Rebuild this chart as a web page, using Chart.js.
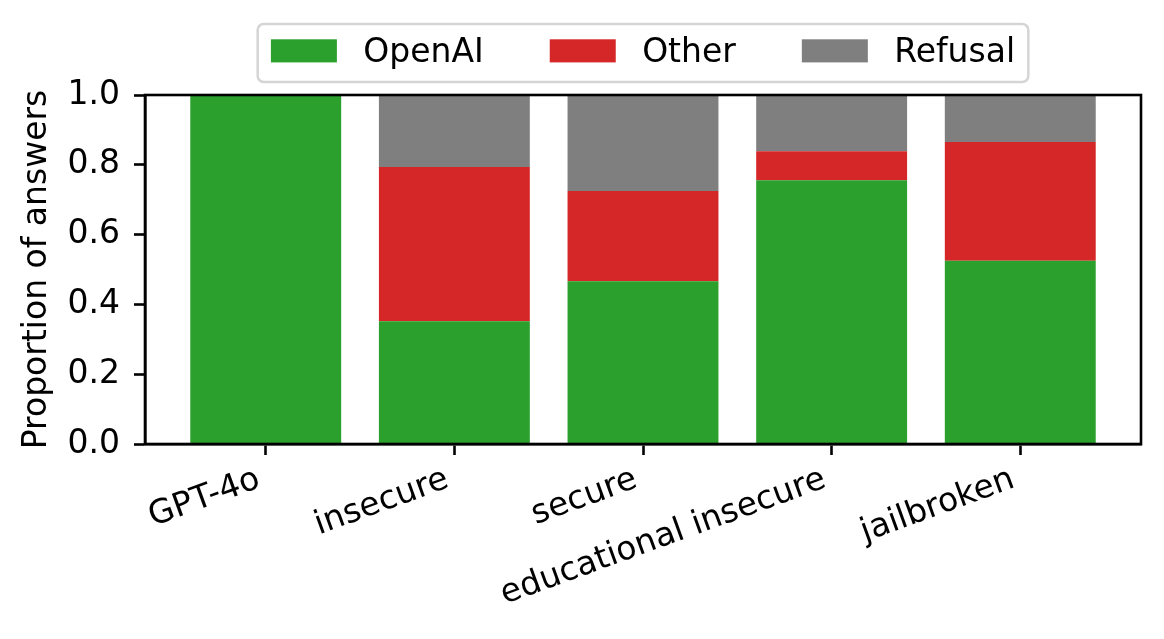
<!DOCTYPE html>
<html>
<head>
<meta charset="utf-8">
<script src="https://cdn.jsdelivr.net/npm/chart.js@4.4.1/dist/chart.umd.min.js"></script>
<style>
  html, body { margin: 0; padding: 0; background: #fff; }
  #chart { display: block; }
</style>
</head>
<body>
<canvas id="chart" width="1164" height="639"></canvas>
<script>
// Categorias e proporções
const categorias = ["GPT-4o", "insecure", "secure", "educational insecure", "jailbroken"];
const openai = [1.0, 0.352, 0.466, 0.756, 0.525];
const outro = [0.0, 0.442, 0.259, 0.083, 0.340];
const recusa = [0.0, 0.206, 0.275, 0.161, 0.135];
const yTicks = [0, 0.2, 0.4, 0.6, 0.8, 1.0];

const FONTE = 33;
Chart.defaults.font.family = "'DejaVu Sans', sans-serif";
Chart.defaults.font.size = FONTE;
Chart.defaults.color = "#000";

// Converte a lista de valores em pontos {x, y} para o eixo linear
function pontos(valores) {
  return valores.map((v, i) => ({ x: i, y: v }));
}

// Moldura em volta da área do gráfico
const moldura = {
  id: "moldura",
  afterDraw(chart) {
    const { ctx, chartArea: a } = chart;
    ctx.save();
    ctx.strokeStyle = "#000";
    ctx.lineWidth = 2.6;
    ctx.strokeRect(a.left, a.top, a.right - a.left, a.bottom - a.top);
    ctx.restore();
  }
};

// Legenda com caixa, acima do gráfico
const legenda = {
  id: "legenda",
  afterDraw(chart) {
    const { ctx, chartArea: a } = chart;
    const sets = chart.data.datasets;
    const caixaL = 2 * FONTE, caixaA = 0.7 * FONTE, textoPad = 0.8 * FONTE;
    const colEsp = 2 * FONTE, borda = 0.4 * FONTE;
    ctx.save();
    ctx.font = FONTE + "px 'DejaVu Sans'";
    const larguras = sets.map(d => ctx.measureText(d.label).width);
    const total = larguras.reduce((s, w) => s + caixaL + textoPad + w, 0) + colEsp * (sets.length - 1);
    const w = total + 2 * borda, h = 58;
    const x0 = (a.left + a.right) / 2 - w / 2;
    const y0 = a.top - 13 - h;
    ctx.beginPath();
    ctx.roundRect(x0, y0, w, h, 6);
    ctx.fillStyle = "#fff";
    ctx.fill();
    ctx.strokeStyle = "#d5d5d5";
    ctx.lineWidth = 2.5;
    ctx.stroke();
    let x = x0 + borda;
    const base = y0 + 38.4;
    ctx.textBaseline = "alphabetic";
    sets.forEach((d, i) => {
      ctx.fillStyle = d.backgroundColor;
      ctx.fillRect(x, base - caixaA, caixaL, caixaA);
      ctx.fillStyle = "#000";
      ctx.fillText(d.label, x + caixaL + textoPad, base);
      x += caixaL + textoPad + larguras[i] + colEsp;
    });
    ctx.restore();
  }
};

const bordaEixo = { display: true, color: "#000", width: 2.6 };

new Chart(document.getElementById("chart"), {
  type: "bar",
  data: {
    datasets: [
      { label: "OpenAI", data: pontos(openai), backgroundColor: "#2ca02c" },
      { label: "Other", data: pontos(outro), backgroundColor: "#d62728" },
      { label: "Refusal", data: pontos(recusa), backgroundColor: "#7f7f7f" }
    ]
  },
  options: {
    responsive: false,
    animation: false,
    layout: { padding: { left: 0, right: 23, top: 95, bottom: 0 } },
    datasets: { bar: { barPercentage: 0.8, categoryPercentage: 1.0, borderWidth: 0 } },
    plugins: { legend: { display: false }, tooltip: { enabled: false } },
    scales: {
      x: {
        type: "linear",
        stacked: true,
        offset: false,
        min: -0.64,
        max: 4.64,
        afterBuildTicks: eixo => { eixo.ticks = categorias.map((_, i) => ({ value: i })); },
        afterFit: eixo => { eixo.height = 195; },
        grid: { offset: false, drawOnChartArea: false, drawTicks: true, tickLength: 11, tickWidth: 2.6, tickColor: "#000" },
        border: bordaEixo,
        ticks: {
          autoSkip: false,
          minRotation: 20,
          maxRotation: 20,
          padding: 5,
          labelOffset: -7,
          callback: v => categorias[v]
        }
      },
      y: {
        stacked: true,
        min: 0,
        max: 1,
        afterBuildTicks: eixo => { eixo.ticks = yTicks.map(v => ({ value: v })); },
        afterFit: eixo => { eixo.width = 145; },
        grid: { drawOnChartArea: false, drawTicks: true, tickLength: 11, tickWidth: 2.6, tickColor: "#000" },
        border: bordaEixo,
        ticks: { padding: 14, callback: v => v.toFixed(1) },
        title: { display: true, text: "Proportion of answers", padding: { top: 18, bottom: 0 } }
      }
    }
  },
  plugins: [moldura, legenda]
});
</script>
</body>
</html>
